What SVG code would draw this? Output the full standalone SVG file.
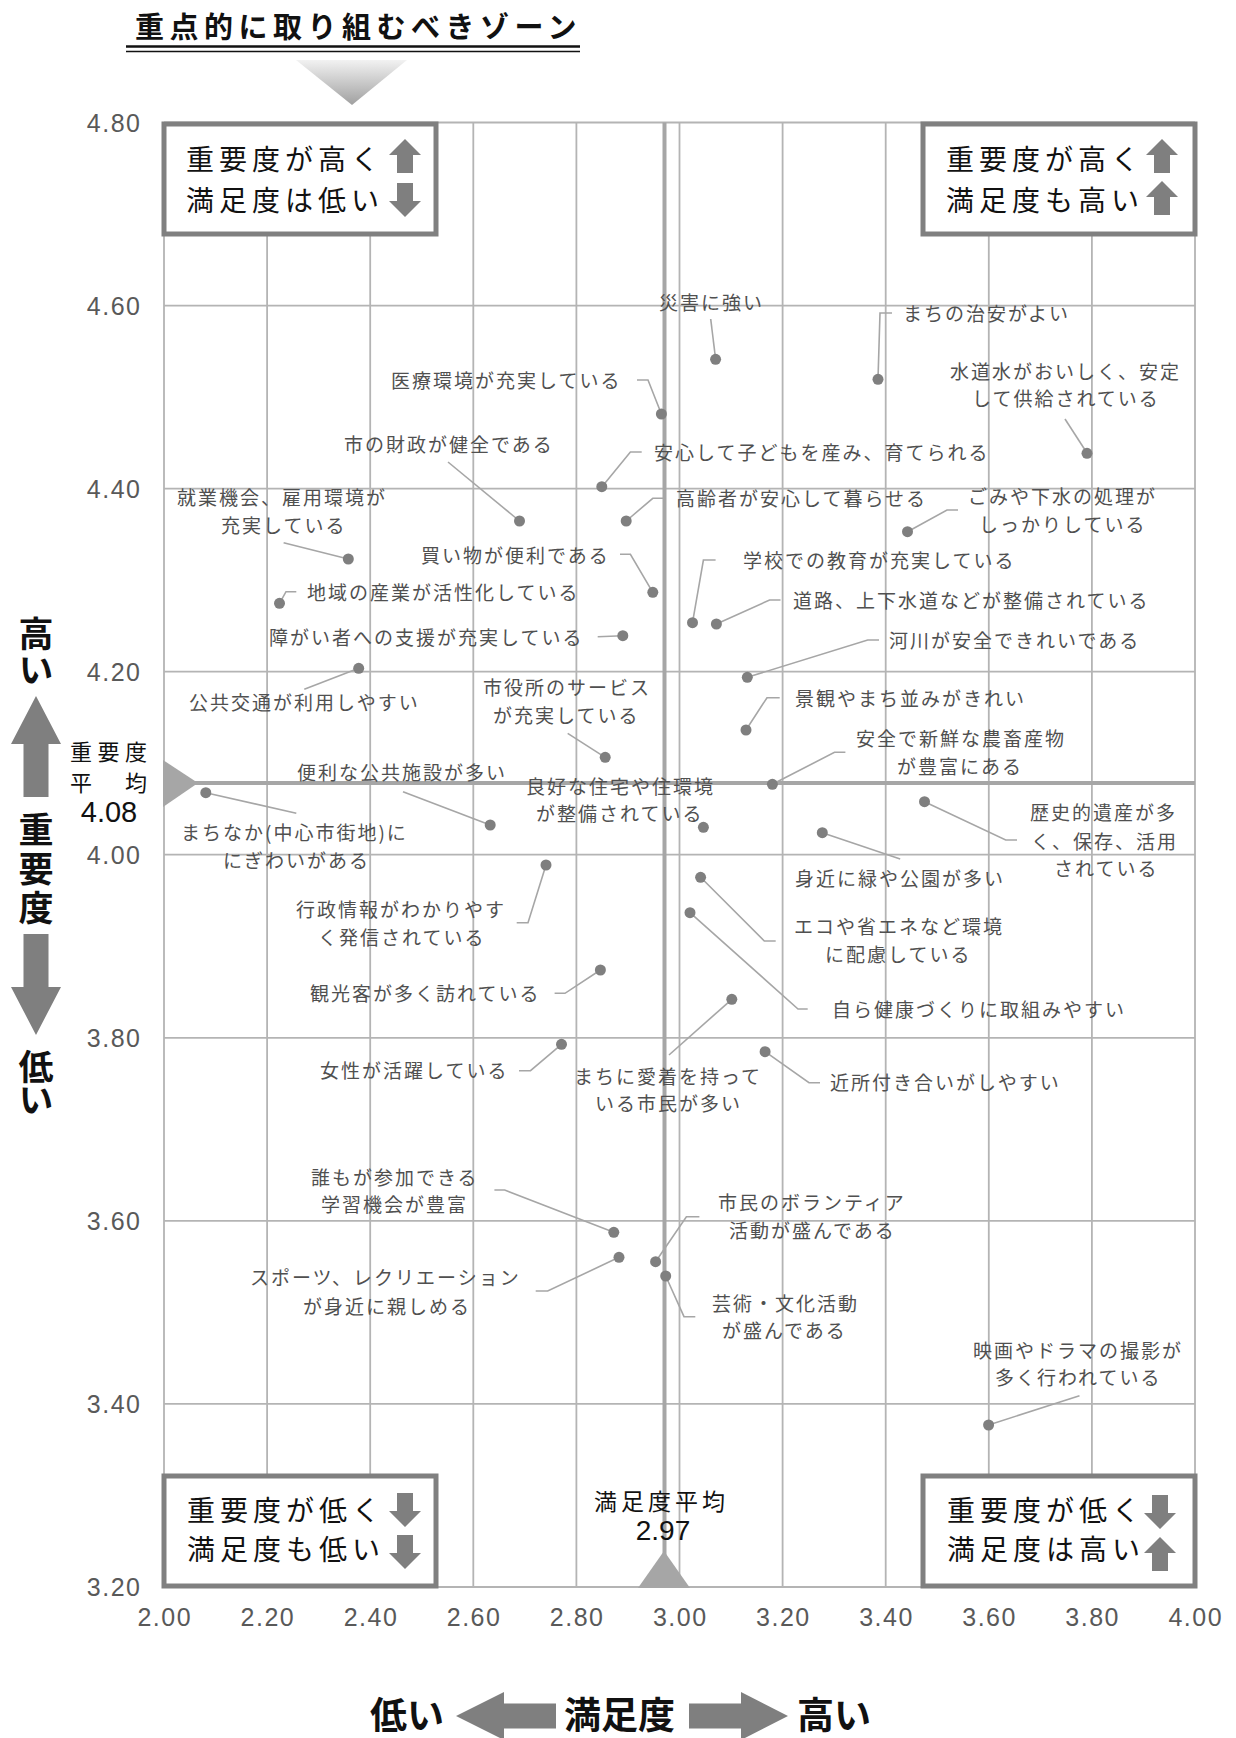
<svg xmlns="http://www.w3.org/2000/svg" width="1236" height="1738" viewBox="0 0 1236 1738">
<style>
.grid{stroke:#b4b4b4;stroke-width:1.8;fill:none}
.avg{stroke:#a6a6a6;stroke-width:4;fill:none}
.ld{stroke:#a6a6a6;stroke-width:1.6;fill:none}
.dot{fill:#7f7f7f}
.lb{font-family:'Noto Sans CJK JP',sans-serif;font-size:19px;letter-spacing:2px;fill:#505050;dominant-baseline:central}
.tk{font-family:'Liberation Sans',Arial,sans-serif;font-size:25px;letter-spacing:1.5px;fill:#595959;dominant-baseline:central}
.box{fill:#fff;stroke:#808080;stroke-width:5}
.bt{font-family:'Noto Sans CJK JP',sans-serif;font-size:28px;letter-spacing:5px;fill:#111;dominant-baseline:central}
.ax{font-family:'Noto Sans CJK JP',sans-serif;font-size:35px;font-weight:bold;fill:#111;writing-mode:vertical-rl}
.axb{font-family:'Noto Sans CJK JP',sans-serif;font-size:37px;font-weight:bold;fill:#111;dominant-baseline:central}
.arr{fill:#7f7f7f}
.avt{font-family:'Noto Sans CJK JP',sans-serif;font-size:22px;letter-spacing:5.5px;fill:#111;dominant-baseline:central}
.avn{font-family:'Liberation Sans',Arial,sans-serif;font-size:29px;fill:#111;dominant-baseline:central;text-anchor:middle}
</style>
<defs>
<linearGradient id="tg" x1="0" y1="0" x2="0" y2="1">
<stop offset="0" stop-color="#f2f2f2"/>
<stop offset="1" stop-color="#a0a0a0"/>
</linearGradient>
<path id="up" d="M0,-17 L16,-1 L8,-1 L8,17 L-8,17 L-8,-1 L-16,-1 Z" class="arr"/>
<path id="dn" d="M0,17 L16,1 L8,1 L8,-17 L-8,-17 L-8,1 L-16,1 Z" class="arr"/>
</defs>
<rect width="1236" height="1738" fill="#fff"/>

<g id="title">
<text x="135" y="25" style="font-family:'Noto Sans CJK JP',sans-serif;font-size:29px;font-weight:bold;letter-spacing:5.5px;fill:#111;dominant-baseline:central">重点的に取り組むべきゾーン</text>
<line x1="126" y1="46.5" x2="580" y2="46.5" stroke="#111" stroke-width="2.5"/>
<line x1="126" y1="51.5" x2="580" y2="51.5" stroke="#111" stroke-width="1.5"/>
<polygon points="296,60 407,60 352,105" fill="url(#tg)"/>
</g>

<g id="grid">
<line class="grid" x1="164" y1="122.5" x2="164" y2="1587"/>
<line class="grid" x1="267.1" y1="122.5" x2="267.1" y2="1587"/>
<line class="grid" x1="370.2" y1="122.5" x2="370.2" y2="1587"/>
<line class="grid" x1="473.3" y1="122.5" x2="473.3" y2="1587"/>
<line class="grid" x1="576.4" y1="122.5" x2="576.4" y2="1587"/>
<line class="grid" x1="679.5" y1="122.5" x2="679.5" y2="1587"/>
<line class="grid" x1="782.6" y1="122.5" x2="782.6" y2="1587"/>
<line class="grid" x1="885.7" y1="122.5" x2="885.7" y2="1587"/>
<line class="grid" x1="988.8" y1="122.5" x2="988.8" y2="1587"/>
<line class="grid" x1="1091.9" y1="122.5" x2="1091.9" y2="1587"/>
<line class="grid" x1="1195" y1="122.5" x2="1195" y2="1587"/>
<line class="grid" x1="164" y1="122.5" x2="1195" y2="122.5"/>
<line class="grid" x1="164" y1="305.6" x2="1195" y2="305.6"/>
<line class="grid" x1="164" y1="488.6" x2="1195" y2="488.6"/>
<line class="grid" x1="164" y1="671.7" x2="1195" y2="671.7"/>
<line class="grid" x1="164" y1="854.7" x2="1195" y2="854.7"/>
<line class="grid" x1="164" y1="1037.8" x2="1195" y2="1037.8"/>
<line class="grid" x1="164" y1="1220.9" x2="1195" y2="1220.9"/>
<line class="grid" x1="164" y1="1403.9" x2="1195" y2="1403.9"/>
<line class="grid" x1="164" y1="1587" x2="1195" y2="1587"/>
</g>

<g id="averages">
<line class="avg" x1="664.5" y1="122.5" x2="664.5" y2="1587"/>
<line class="avg" x1="164" y1="783" x2="1195" y2="783"/>
<polygon points="163,760 198,783 163,807" fill="#a6a6a6"/>
<polygon points="638,1588 690,1588 664,1551" fill="#a6a6a6"/>
</g>

<g id="ticks">
<text class="tk" x="141.5" y="122.5" text-anchor="end">4.80</text>
<text class="tk" x="141.5" y="305.6" text-anchor="end">4.60</text>
<text class="tk" x="141.5" y="488.6" text-anchor="end">4.40</text>
<text class="tk" x="141.5" y="671.7" text-anchor="end">4.20</text>
<text class="tk" x="141.5" y="854.7" text-anchor="end">4.00</text>
<text class="tk" x="141.5" y="1037.8" text-anchor="end">3.80</text>
<text class="tk" x="141.5" y="1220.9" text-anchor="end">3.60</text>
<text class="tk" x="141.5" y="1403.9" text-anchor="end">3.40</text>
<text class="tk" x="141.5" y="1587" text-anchor="end">3.20</text>
<text class="tk" x="164.8" y="1617" text-anchor="middle">2.00</text>
<text class="tk" x="267.9" y="1617" text-anchor="middle">2.20</text>
<text class="tk" x="371" y="1617" text-anchor="middle">2.40</text>
<text class="tk" x="474.1" y="1617" text-anchor="middle">2.60</text>
<text class="tk" x="577.2" y="1617" text-anchor="middle">2.80</text>
<text class="tk" x="680.3" y="1617" text-anchor="middle">3.00</text>
<text class="tk" x="783.4" y="1617" text-anchor="middle">3.20</text>
<text class="tk" x="886.5" y="1617" text-anchor="middle">3.40</text>
<text class="tk" x="989.6" y="1617" text-anchor="middle">3.60</text>
<text class="tk" x="1092.7" y="1617" text-anchor="middle">3.80</text>
<text class="tk" x="1195.8" y="1617" text-anchor="middle">4.00</text>
</g>

<g id="connectors">
<path class="ld" d="M710.7,319 L715.6,359"/>
<path class="ld" d="M878,379 L880,313 L892,313"/>
<path class="ld" d="M637,380 L648,380 L661.4,414"/>
<path class="ld" d="M1065,419 L1087,453"/>
<path class="ld" d="M448,462 L519.5,521"/>
<path class="ld" d="M601.8,487 L630.4,452 L641.7,452"/>
<path class="ld" d="M626.2,521 L652.8,498.3 L663,498.3"/>
<path class="ld" d="M907.5,531.7 L947,510 L958,510"/>
<path class="ld" d="M283.6,542.7 L348.3,559"/>
<path class="ld" d="M620,554.3 L630.4,554.3 L652.8,592.3"/>
<path class="ld" d="M692.5,622.7 L703.4,560 L715.6,560"/>
<path class="ld" d="M279.5,603.3 L286,591.7 L296.3,591.7"/>
<path class="ld" d="M716.4,624 L769.6,600 L780.5,600"/>
<path class="ld" d="M597.7,636.7 L622.8,635.7"/>
<path class="ld" d="M747.3,677.3 L867.7,640 L879,640"/>
<path class="ld" d="M304.3,689.3 L358.7,668.3"/>
<path class="ld" d="M567.7,733.3 L605.2,757.3"/>
<path class="ld" d="M746,730 L767,697.7 L779.7,697.7"/>
<path class="ld" d="M772.4,784.3 L834.5,752.3 L845.4,752.3"/>
<path class="ld" d="M403,791.7 L490.2,825"/>
<path class="ld" d="M205.8,792.7 L296.3,813.3"/>
<path class="ld" d="M924.5,801.7 L1005.7,840 L1017,840"/>
<path class="ld" d="M822.3,832.7 L900.2,859"/>
<path class="ld" d="M546,865 L528,922.7 L516.7,922.7"/>
<path class="ld" d="M700.6,877.3 L764.3,941 L775.7,941"/>
<path class="ld" d="M600.4,970 L565,993.3 L554.6,993.3"/>
<path class="ld" d="M690,912.7 L798,1009 L807.7,1009"/>
<path class="ld" d="M561.5,1044.3 L530.5,1070.7 L519,1070.7"/>
<path class="ld" d="M669,1055 L731.8,999.3"/>
<path class="ld" d="M765.1,1051.7 L809,1082.7 L820,1082.7"/>
<path class="ld" d="M494.4,1190 L504.7,1190 L613.8,1232.3"/>
<path class="ld" d="M655.6,1261.7 L686.4,1216.7 L699.4,1216.7"/>
<path class="ld" d="M619,1257.3 L547.7,1291 L535.7,1291"/>
<path class="ld" d="M665.7,1276 L684,1316.7 L695.3,1316.7"/>
<path class="ld" d="M1079.5,1395.7 L988.6,1425"/>
</g>

<g id="n01"><circle class="dot" cx="715.6" cy="359.3" r="5.5"/><text class="lb" x="659" y="301">災害に強い</text></g>
<g id="n02"><circle class="dot" cx="878" cy="379.3" r="5.5"/><text class="lb" x="903" y="312">まちの治安がよい</text></g>
<g id="n03"><circle class="dot" cx="661.4" cy="414" r="5.5"/><text class="lb" x="391" y="379">医療環境が充実している</text></g>
<g id="n04"><circle class="dot" cx="1087" cy="453.3" r="5.5"/><text class="lb" x="950" y="370">水道水がおいしく、安定</text><text class="lb" x="972" y="397">して供給されている</text></g>
<g id="n05"><circle class="dot" cx="519.5" cy="521" r="5.5"/><text class="lb" x="344" y="443">市の財政が健全である</text></g>
<g id="n06"><circle class="dot" cx="601.8" cy="486.7" r="5.5"/><text class="lb" x="654" y="451">安心して子どもを産み、育てられる</text></g>
<g id="n07"><circle class="dot" cx="626.2" cy="521" r="5.5"/><text class="lb" x="676" y="497">高齢者が安心して暮らせる</text></g>
<g id="n08"><circle class="dot" cx="907.5" cy="531.7" r="5.5"/><text class="lb" x="968" y="495">ごみや下水の処理が</text><text class="lb" x="979" y="523">しっかりしている</text></g>
<g id="n09"><circle class="dot" cx="348.3" cy="559" r="5.5"/><text class="lb" x="177" y="496">就業機会、雇用環境が</text><text class="lb" x="221" y="524">充実している</text></g>
<g id="n10"><circle class="dot" cx="652.8" cy="592.3" r="5.5"/><text class="lb" x="421" y="554">買い物が便利である</text></g>
<g id="n11"><circle class="dot" cx="692.5" cy="622.7" r="5.5"/><text class="lb" x="743" y="559">学校での教育が充実している</text></g>
<g id="n12"><circle class="dot" cx="279.5" cy="603.3" r="5.5"/><text class="lb" x="307" y="591">地域の産業が活性化している</text></g>
<g id="n13"><circle class="dot" cx="716.4" cy="624" r="5.5"/><text class="lb" x="793" y="599">道路、上下水道などが整備されている</text></g>
<g id="n14"><circle class="dot" cx="622.8" cy="635.7" r="5.5"/><text class="lb" x="269" y="636">障がい者への支援が充実している</text></g>
<g id="n15"><circle class="dot" cx="747.3" cy="677.3" r="5.5"/><text class="lb" x="889" y="639">河川が安全できれいである</text></g>
<g id="n16"><circle class="dot" cx="358.7" cy="668.3" r="5.5"/><text class="lb" x="189" y="701">公共交通が利用しやすい</text></g>
<g id="n17"><circle class="dot" cx="605.2" cy="757.3" r="5.5"/><text class="lb" x="483" y="686">市役所のサービス</text><text class="lb" x="493" y="714">が充実している</text></g>
<g id="n18"><circle class="dot" cx="746" cy="730" r="5.5"/><text class="lb" x="795" y="697">景観やまち並みがきれい</text></g>
<g id="n19"><circle class="dot" cx="772.4" cy="784.3" r="5.5"/><text class="lb" x="856" y="737">安全で新鮮な農畜産物</text><text class="lb" x="897" y="765">が豊富にある</text></g>
<g id="n20"><circle class="dot" cx="490.2" cy="825" r="5.5"/><text class="lb" x="297" y="771">便利な公共施設が多い</text></g>
<g id="n21"><circle class="dot" cx="703.4" cy="827.3" r="5.5"/><text class="lb" x="526" y="785">良好な住宅や住環境</text><text class="lb" x="536" y="812">が整備されている</text></g>
<g id="n22"><circle class="dot" cx="205.8" cy="792.7" r="5.5"/><text class="lb" x="181" y="831">まちなか(中心市街地)に</text><text class="lb" x="223" y="859">にぎわいがある</text></g>
<g id="n23"><circle class="dot" cx="924.5" cy="801.7" r="5.5"/><text class="lb" x="1030" y="811">歴史的遺産が多</text><text class="lb" x="1031" y="840">く、保存、活用</text><text class="lb" x="1054" y="867">されている</text></g>
<g id="n24"><circle class="dot" cx="822.3" cy="832.7" r="5.5"/><text class="lb" x="795" y="877">身近に緑や公園が多い</text></g>
<g id="n25"><circle class="dot" cx="546" cy="865" r="5.5"/><text class="lb" x="296" y="908">行政情報がわかりやす</text><text class="lb" x="318" y="936">く発信されている</text></g>
<g id="n26"><circle class="dot" cx="700.6" cy="877.3" r="5.5"/><text class="lb" x="794" y="925">エコや省エネなど環境</text><text class="lb" x="825" y="953">に配慮している</text></g>
<g id="n27"><circle class="dot" cx="600.4" cy="970" r="5.5"/><text class="lb" x="310" y="992">観光客が多く訪れている</text></g>
<g id="n28"><circle class="dot" cx="690" cy="912.7" r="5.5"/><text class="lb" x="832" y="1008">自ら健康づくりに取組みやすい</text></g>
<g id="n29"><circle class="dot" cx="561.5" cy="1044.3" r="5.5"/><text class="lb" x="320" y="1069">女性が活躍している</text></g>
<g id="n30"><circle class="dot" cx="731.8" cy="999.3" r="5.5"/><text class="lb" x="574" y="1075">まちに愛着を持って</text><text class="lb" x="595" y="1102">いる市民が多い</text></g>
<g id="n31"><circle class="dot" cx="765.1" cy="1051.7" r="5.5"/><text class="lb" x="830" y="1081">近所付き合いがしやすい</text></g>
<g id="n32"><circle class="dot" cx="613.8" cy="1232.3" r="5.5"/><text class="lb" x="311" y="1176">誰もが参加できる</text><text class="lb" x="321" y="1203">学習機会が豊富</text></g>
<g id="n33"><circle class="dot" cx="655.6" cy="1261.7" r="5.5"/><text class="lb" x="718" y="1201">市民のボランティア</text><text class="lb" x="729" y="1229">活動が盛んである</text></g>
<g id="n34"><circle class="dot" cx="619" cy="1257.3" r="5.5"/><text class="lb" x="250" y="1276">スポーツ、レクリエーション</text><text class="lb" x="303" y="1305">が身近に親しめる</text></g>
<g id="n35"><circle class="dot" cx="665.7" cy="1276" r="5.5"/><text class="lb" x="712" y="1302">芸術・文化活動</text><text class="lb" x="722" y="1329">が盛んである</text></g>
<g id="n36"><circle class="dot" cx="988.6" cy="1425" r="5.5"/><text class="lb" x="973" y="1349">映画やドラマの撮影が</text><text class="lb" x="995" y="1376">多く行われている</text></g>

<g id="avg-labels">
<text class="avt" x="70" y="750">重要度</text>
<text class="avt" x="70" y="781">平　均</text>
<text class="avn" x="109" y="812">4.08</text>
<text x="594" y="1500" style="font-family:'Noto Sans CJK JP',sans-serif;font-size:23px;letter-spacing:4px;fill:#111;dominant-baseline:central">満足度平均</text>
<text class="avn" x="663" y="1530" style="font-size:28px">2.97</text>
</g>

<g id="q-top-left">
<rect class="box" x="164" y="124" width="272" height="110"/>
<text class="bt" x="186" y="158">重要度が高く</text>
<text class="bt" x="186" y="199">満足度は低い</text>
<use href="#up" x="405" y="156"/>
<use href="#dn" x="405" y="200"/>
</g>
<g id="q-top-right">
<rect class="box" x="923" y="124" width="272" height="110"/>
<text class="bt" x="946" y="158">重要度が高く</text>
<text class="bt" x="946" y="199">満足度も高い</text>
<use href="#up" x="1162" y="156"/>
<use href="#up" x="1162" y="198"/>
</g>
<g id="q-bottom-left">
<rect class="box" x="164" y="1476" width="272" height="110"/>
<text class="bt" x="187" y="1509">重要度が低く</text>
<text class="bt" x="187" y="1548">満足度も低い</text>
<use href="#dn" x="405" y="1510"/>
<use href="#dn" x="405" y="1552"/>
</g>
<g id="q-bottom-right">
<rect class="box" x="923" y="1476" width="272" height="110"/>
<text class="bt" x="947" y="1509">重要度が低く</text>
<text class="bt" x="947" y="1548">満足度は高い</text>
<use href="#dn" x="1160" y="1512"/>
<use href="#up" x="1160" y="1554"/>
</g>

<g id="y-axis-title">
<text class="ax" x="36" y="616" style="letter-spacing:1.5px">高い</text>
<path class="arr" d="M36,696 L61,744 L48.5,744 L48.5,797 L23.5,797 L23.5,744 L11,744 Z"/>
<text class="ax" x="36" y="812" style="letter-spacing:4px">重要度</text>
<path class="arr" d="M36,1035 L61,987 L48.5,987 L48.5,934 L23.5,934 L23.5,987 L11,987 Z"/>
<text class="ax" x="36" y="1049" style="letter-spacing:-2px">低い</text>
</g>

<g id="x-axis-title">
<text class="axb" x="370" y="1713">低い</text>
<path class="arr" d="M456,1716 L504,1692 L504,1703.5 L556,1703.5 L556,1728.5 L504,1728.5 L504,1740 Z"/>
<text class="axb" x="564" y="1713">満足度</text>
<path class="arr" d="M788,1716 L741,1692 L741,1703.5 L689,1703.5 L689,1728.5 L741,1728.5 L741,1740 Z"/>
<text class="axb" x="797" y="1713">高い</text>
</g>
</svg>
